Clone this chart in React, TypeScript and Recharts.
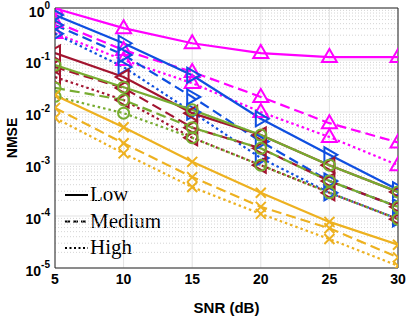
import React from "react";
import {
  LineChart,
  Line,
  XAxis,
  YAxis,
  CartesianGrid,
  ReferenceLine,
  Customized,
} from "recharts";

const snr = [5, 10, 15, 20, 25, 30];
const xTicks = [5, 10, 15, 20, 25, 30];
const yTicks = [1e-5, 1e-4, 1e-3, 1e-2, 1e-1, 1];
const yMinor = [2, 3, 4, 5, 6, 7, 8, 9].flatMap((m) =>
  [1e-5, 1e-4, 1e-3, 1e-2, 1e-1].map((d) => m * d)
);

const magentaLow = [0.98, 0.41, 0.21, 0.136, 0.114, 0.114];
const magentaMed = [0.54, 0.155, 0.059, 0.0195, 0.0061, 0.0026];
const magentaHigh = [0.33, 0.1, 0.036, 0.01, 0.0033, 0.00095];

const blueLow = [0.73, 0.21, 0.051, 0.0074, 0.0015, 0.00032];
const blueMed = [0.47, 0.125, 0.0195, 0.0027, 0.00047, 0.00015];
const blueHigh = [0.32, 0.073, 0.01, 0.0013, 0.00028, 0.000088];

const redLow = [0.136, 0.047, 0.0095, 0.0036, 0.00095, 0.00029];
const redMed = [0.073, 0.029, 0.005, 0.002, 0.00047, 0.00015];
const redHigh = [0.047, 0.017, 0.0032, 0.00095, 0.00028, 0.000087];

const greenLow = [0.08, 0.03, 0.011, 0.0036, 0.00095, 0.00029];
const greenMed = [0.029, 0.017, 0.005, 0.002, 0.00047, 0.00015];
const greenHigh = [0.02, 0.0095, 0.0032, 0.00095, 0.00028, 0.000087];

const orangeLow = [0.021, 0.0051, 0.0011, 0.00028, 0.000077, 0.000028];
const orangeMed = [0.012, 0.0025, 0.00056, 0.00015, 0.000058, 0.000016];
const orangeHigh = [0.0077, 0.0016, 0.00036, 0.00011, 0.000036, 0.000011];

const legendItems = ["Low", "Medium", "High"];

const COLORS = {
  magenta: "#FF00FF",
  blue: "#0F4FE0",
  red: "#A2142F",
  green: "#77AC30",
  orange: "#EDB120",
};

const seriesDefs = [
  { key: "mL", vals: magentaLow, color: COLORS.magenta, style: "solid", marker: "up" },
  { key: "mM", vals: magentaMed, color: COLORS.magenta, style: "dash", marker: "up" },
  { key: "mH", vals: magentaHigh, color: COLORS.magenta, style: "dot", marker: "up" },
  { key: "bL", vals: blueLow, color: COLORS.blue, style: "solid", marker: "right" },
  { key: "bM", vals: blueMed, color: COLORS.blue, style: "dash", marker: "right" },
  { key: "bH", vals: blueHigh, color: COLORS.blue, style: "dot", marker: "right" },
  { key: "rL", vals: redLow, color: COLORS.red, style: "solid", marker: "left" },
  { key: "rM", vals: redMed, color: COLORS.red, style: "dash", marker: "left" },
  { key: "rH", vals: redHigh, color: COLORS.red, style: "dot", marker: "left" },
  { key: "gL", vals: greenLow, color: COLORS.green, style: "solid", marker: "circle" },
  { key: "gM", vals: greenMed, color: COLORS.green, style: "dash", marker: "circle" },
  { key: "gH", vals: greenHigh, color: COLORS.green, style: "dot", marker: "circle" },
  { key: "oL", vals: orangeLow, color: COLORS.orange, style: "solid", marker: "x" },
  { key: "oM", vals: orangeMed, color: COLORS.orange, style: "dash", marker: "x" },
  { key: "oH", vals: orangeHigh, color: COLORS.orange, style: "dot", marker: "x" },
];

const data = snr.map((x, i) => {
  const row: any = { snr: x };
  seriesDefs.forEach((s) => {
    row[s.key] = s.vals[i];
  });
  return row;
});

const DASH: any = { solid: undefined, dash: "10 5", dot: "2.5 3" };

const makeDot = (shape: string, color: string) => (props: any) => {
  const { cx, cy, index } = props;
  const k = `d-${index}`;
  if (cx == null || cy == null) return <g key={k} />;
  const common = { fill: "none", stroke: color, strokeWidth: 2, strokeDasharray: "none" };
  if (shape === "up") {
    return (
      <polygon key={k} {...common}
        points={`${cx},${cy - 8} ${cx - 7.5},${cy + 5} ${cx + 7.5},${cy + 5}`} />
    );
  }
  if (shape === "right") {
    return (
      <polygon key={k} {...common}
        points={`${cx + 8},${cy} ${cx - 5},${cy - 7.5} ${cx - 5},${cy + 7.5}`} />
    );
  }
  if (shape === "left") {
    return (
      <polygon key={k} {...common}
        points={`${cx - 8},${cy} ${cx + 5},${cy - 7.5} ${cx + 5},${cy + 7.5}`} />
    );
  }
  if (shape === "circle") {
    return <circle key={k} cx={cx} cy={cy} r={5.5} {...common} />;
  }
  return (
    <path key={k} {...common}
      d={`M${cx - 5},${cy - 5}L${cx + 5},${cy + 5}M${cx - 5},${cy + 5}L${cx + 5},${cy - 5}`} />
  );
};

const YTick = (props: any) => {
  const { x, y, payload } = props;
  const exp = Math.round(Math.log10(payload.value));
  return (
    <text x={x} y={y + 8} textAnchor="end" fill="#000"
      fontFamily="Liberation Sans, Arial, sans-serif" fontWeight="bold" fontSize={14}>
      <tspan>10</tspan>
      <tspan dy={-8} fontSize={10}>{exp}</tspan>
    </text>
  );
};

const XTick = (props: any) => {
  const { x, y, payload } = props;
  return (
    <text x={x} y={y + 14} textAnchor="middle" fill="#000"
      fontFamily="Liberation Sans, Arial, sans-serif" fontWeight="bold" fontSize={14}>
      {payload.value}
    </text>
  );
};

const LegendBox = (props: any) => {
  const off = props.offset || { left: 55, top: 8, height: 260 };
  const x0 = off.left + 10;
  const yBase = off.top + 187;
  const dashes = [undefined, "5 3", "2 2.5"];
  return (
    <g>
      {legendItems.map((t, i) => {
        const ly = yBase + i * 26.5;
        return (
          <g key={t}>
            <line x1={x0} x2={x0 + 23} y1={ly} y2={ly} stroke="#000" strokeWidth={2}
              strokeDasharray={dashes[i]} />
            <text x={x0 + 25} y={ly + 6} fill="#000"
              fontFamily="Liberation Serif, Times New Roman, serif" fontSize={21}>
              {t}
            </text>
          </g>
        );
      })}
    </g>
  );
};

const YLabel = (props: any) => {
  const vb = props.viewBox || { x: 0, y: 8, width: 55, height: 260 };
  const cx = 17;
  const cy = vb.y + vb.height / 2;
  return (
    <text x={cx} y={cy} transform={`rotate(-90, ${cx}, ${cy})`} textAnchor="middle"
      fill="#000" fontFamily="Liberation Sans, Arial, sans-serif" fontWeight="bold" fontSize={14}>
      NMSE
    </text>
  );
};

const XLabel = (props: any) => {
  const vb = props.viewBox || { x: 55, y: 268, width: 343, height: 49 };
  const cx = vb.x + vb.width / 2;
  return (
    <text x={cx} y={313} textAnchor="middle" fill="#000"
      fontFamily="Liberation Sans, Arial, sans-serif" fontWeight="bold" fontSize={15}>
      SNR (dB)
    </text>
  );
};

export default function App() {
  return (
    <div style={{ position: "absolute", left: 0, top: 0, background: "#fff" }}>
      <LineChart width={407} height={317} data={data}
        margin={{ top: 8, right: 9, bottom: 0, left: 0 }}>
        <CartesianGrid stroke="#e3e3e3" strokeWidth={1} />
        {yMinor.map((v) => (
          <ReferenceLine key={`m${v}`} y={v} stroke="#d4d4d4" strokeDasharray="1 2" strokeWidth={1} />
        ))}
        <XAxis dataKey="snr" type="number" domain={[5, 30]} ticks={xTicks}
          allowDataOverflow height={49} tickSize={0} tick={<XTick />}
          axisLine={{ stroke: "#262626" }} label={<XLabel />} />
        <YAxis type="number" scale="log" domain={[1e-5, 1]} ticks={yTicks}
          allowDataOverflow width={55} tickSize={0} tickMargin={5} tick={<YTick />}
          axisLine={{ stroke: "#262626" }} label={<YLabel />} />
        <ReferenceLine y={1} stroke="#262626" />
        <ReferenceLine x={30} stroke="#262626" />
        {seriesDefs.map((s) => (
          <Line key={s.key} dataKey={s.key} stroke={s.color} strokeWidth={2.2}
            strokeDasharray={DASH[s.style]} isAnimationActive={false}
            dot={makeDot(s.marker, s.color)} activeDot={false} />
        ))}
        <Customized component={LegendBox} />
      </LineChart>
    </div>
  );
}
